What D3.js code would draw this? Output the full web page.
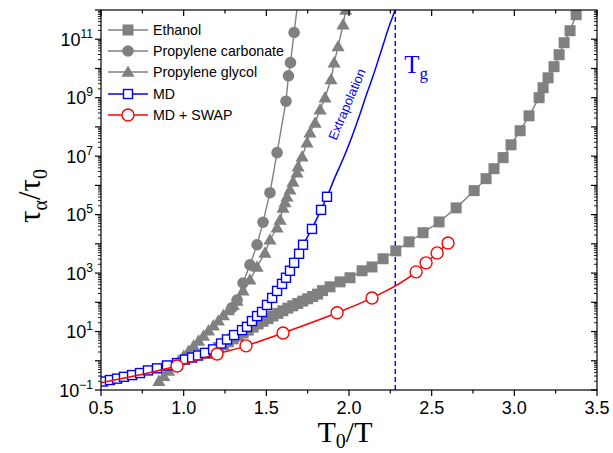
<!DOCTYPE html>
<html>
<head>
<meta charset="utf-8">
<script src="https://cdn.jsdelivr.net/npm/d3@7"></script>
<style>
  html, body { margin: 0; padding: 0; background: #fff; }
  svg { display: block; }
</style>
</head>
<body>
<svg id="chart" width="613" height="453"></svg>
<script>
// ---------------- data ----------------
const ethanolX = [1.15,1.18,1.21,1.24,1.27,1.30,1.33,1.36,1.39,1.42,1.45,1.48,1.51,1.54,1.57,1.60,1.63,1.66,1.69,1.72,1.75,1.78,1.81,1.84,1.885,1.946,2.006,2.079,2.139,2.206,2.283,2.363,2.448,2.545,2.648,2.757,2.829,2.877,2.932,2.980,3.035,3.089,3.150,3.174,3.204,3.240,3.271,3.301,3.337,3.374,3.40];
const ethanolY = [1.78,2.24,2.82,3.55,4.47,5.62,7.08,8.91,11.2,14.1,18.2,22.4,27.5,33.9,41.7,51.3,63.1,75.9,91.2,110,132,158,191,251,339,501,692,1200,1620,3090,5750,1.17e4,2.40e4,5.62e4,1.70e5,6.61e5,1.70e6,3.72e6,8.91e6,2.45e7,7.41e7,2.40e8,1.0e9,2.19e9,4.79e9,1.15e10,2.95e10,7.59e10,1.95e11,6.92e11,2.5e12];

const carbonateX = [1.292,1.323,1.359,1.401,1.444,1.48,1.522,1.565,1.619,1.634,1.646,1.668,1.695];
const carbonateY = [64.6,120,457,1910,9330,5.50e4,5.62e5,1.32e7,7.59e8,5.62e9,1.58e10,1.70e11,3e12];

const glycolX = [0.85,0.88,0.91,0.94,0.97,1.00,1.03,1.06,1.09,1.12,1.15,1.18,1.21,1.24,1.27,1.30,1.323,1.359,1.401,1.444,1.492,1.522,1.565,1.583,1.601,1.613,1.625,1.643,1.661,1.686,1.692,1.716,1.746,1.764,1.795,1.825,1.855,1.891,1.91,1.934,1.964,1.98,2.0];
const glycolY = [0.20,0.295,0.447,0.661,1.0,1.45,2.14,3.24,4.79,7.08,10.7,15.8,23.4,35.5,52.5,79.4,112,251,589,1620,4900,1.38e4,3.55e4,6.61e4,1.70e5,2.63e5,4.07e5,7.08e5,1.32e6,2.69e6,4.37e6,9.55e6,2.88e7,6.31e7,1.38e8,3.89e8,1.0e9,4.17e9,1.58e10,5.62e10,3.16e11,1.0e12,3e12];

const mdX = [0.512,0.554,0.597,0.639,0.688,0.736,0.784,0.839,0.899,0.960,1.008,1.051,1.087,1.129,1.178,1.226,1.262,1.305,1.353,1.383,1.413,1.444,1.474,1.504,1.535,1.565,1.595,1.619,1.643,1.668,1.698,1.722,1.776,1.831,1.867];
const mdY = [0.195,0.219,0.245,0.282,0.324,0.380,0.468,0.550,0.692,0.832,1.10,1.29,1.51,1.86,2.45,3.89,5.37,7.59,11.2,14.5,22.9,33.9,46.8,81.3,141,245,427,692,1200,2240,4570,9330,3.24e4,1.45e5,4.07e5];

const extrapX = [1.867,1.92,1.964,2.02,2.067,2.11,2.146,2.18,2.206,2.24,2.279,2.30];
const extrapY = [4.07e5,2.2e6,8.0e6,5.0e7,2.8e8,1.5e9,5.6e9,2.2e10,6.3e10,2.5e11,1.0e12,2.24e12];

const swapX = [0.960,1.202,1.377,1.601,1.928,2.139,2.406,2.466,2.533,2.599];
const swapY = [0.661,1.70,3.24,8.91,43.7,141,1100,2240,4900,1.07e4];
const swapCurveX = [0.5,0.960,1.202,1.377,1.601,1.928,2.139,2.406,2.466,2.533,2.599];
const swapCurveY = [0.178,0.661,1.70,3.24,8.91,43.7,141,1100,2240,4900,1.07e4];

const tgValue = 2.28;

const xTicks = [0.5,1.0,1.5,2.0,2.5,3.0,3.5];
const xMinorTicks = [0.75,1.25,1.75,2.25,2.75,3.25];
const yLabelExps = [-1,1,3,5,7,9,11];
const yDecades = [-1,0,1,2,3,4,5,6,7,8,9,10,11];

const legendNames = ["Ethanol","Propylene carbonate","Propylene glycol","MD","MD + SWAP"];

// ---------------- drawing ----------------
const svg = d3.select("#chart");
const L = 101, R = 597, T = 10, B = 390;
const x = d3.scaleLinear().domain([0.5, 3.5]).range([L, R]);
const y = d3.scaleLog().domain([0.1, 1e12]).range([B, T]);

const GRAY = "#808080", BLUE = "#0000ff", RED = "#ff0000";

svg.append("defs").append("clipPath").attr("id","clip")
  .append("rect").attr("x",L).attr("y",T).attr("width",R-L).attr("height",B-T);

const plot = svg.append("g").attr("clip-path","url(#clip)");

function zip(xs, ys){ return xs.map((v,i)=>[v, ys[i]]); }
const lineLin = d3.line().x(d=>x(d[0])).y(d=>y(d[1]));
const lineSmooth = d3.line().x(d=>x(d[0])).y(d=>y(d[1])).curve(d3.curveMonotoneX);

// Tg dashed line
plot.append("line").attr("x1",x(tgValue)).attr("x2",x(tgValue)).attr("y1",B).attr("y2",T)
  .attr("stroke",BLUE).attr("stroke-width",1.4).attr("stroke-dasharray","5,3");

// series lines
const eth = zip(ethanolX, ethanolY), pc = zip(carbonateX, carbonateY), pg = zip(glycolX, glycolY);
const md = zip(mdX, mdY), ex = zip(extrapX, extrapY), sw = zip(swapX, swapY), swc = zip(swapCurveX, swapCurveY);

plot.append("path").attr("d", lineLin(eth)).attr("fill","none").attr("stroke",GRAY).attr("stroke-width",1.4);
plot.append("path").attr("d", lineLin(pc)).attr("fill","none").attr("stroke",GRAY).attr("stroke-width",1.4);
plot.append("path").attr("d", lineLin(pg)).attr("fill","none").attr("stroke",GRAY).attr("stroke-width",1.4);

const triSym = d3.symbol().type(d3.symbolTriangle).size(75);

// gray markers
plot.append("g").selectAll("rect").data(eth).join("rect")
  .attr("x",d=>x(d[0])-5.5).attr("y",d=>y(d[1])-5.5).attr("width",11).attr("height",11).attr("fill",GRAY);
plot.append("g").selectAll("circle").data(pc).join("circle")
  .attr("cx",d=>x(d[0])).attr("cy",d=>y(d[1])).attr("r",5.8).attr("fill",GRAY);
plot.append("g").selectAll("path").data(pg).join("path")
  .attr("d", triSym).attr("transform",d=>`translate(${x(d[0])},${y(d[1])+1})`).attr("fill",GRAY);

// MD
plot.append("path").attr("d", lineLin(md)).attr("fill","none").attr("stroke",BLUE).attr("stroke-width",1.5);
plot.append("path").attr("d", lineSmooth(ex)).attr("fill","none").attr("stroke",BLUE).attr("stroke-width",1.5);
plot.append("g").selectAll("rect").data(md).join("rect")
  .attr("x",d=>x(d[0])-4.5).attr("y",d=>y(d[1])-4.5).attr("width",9).attr("height",9)
  .attr("fill","#fff").attr("stroke",BLUE).attr("stroke-width",1.4);

// MD + SWAP
plot.append("path").attr("d", lineSmooth(swc)).attr("fill","none").attr("stroke",RED).attr("stroke-width",1.5);
plot.append("g").selectAll("circle").data(sw).join("circle")
  .attr("cx",d=>x(d[0])).attr("cy",d=>y(d[1])).attr("r",6)
  .attr("fill","#fff").attr("stroke",RED).attr("stroke-width",1.4);

// ---------------- axes ----------------
const ax = svg.append("g").attr("stroke","#000").attr("stroke-width",1.2);
ax.append("rect").attr("x",L).attr("y",T).attr("width",R-L).attr("height",B-T).attr("fill","none");

xTicks.forEach(v=>{
  ax.append("line").attr("x1",x(v)).attr("x2",x(v)).attr("y1",B).attr("y2",B+6);
  ax.append("line").attr("x1",x(v)).attr("x2",x(v)).attr("y1",T).attr("y2",T+6);
});
xMinorTicks.forEach(v=>{
  ax.append("line").attr("x1",x(v)).attr("x2",x(v)).attr("y1",B).attr("y2",B+3.5);
  ax.append("line").attr("x1",x(v)).attr("x2",x(v)).attr("y1",T).attr("y2",T+3.5);
});
yDecades.forEach(k=>{
  const base = Math.pow(10,k);
  ax.append("line").attr("x1",L-6).attr("x2",L).attr("y1",y(base)).attr("y2",y(base));
  ax.append("line").attr("x1",R-6).attr("x2",R).attr("y1",y(base)).attr("y2",y(base));
  for (let m=2; m<=9; m++){
    const v = m*base;
    ax.append("line").attr("x1",L-3).attr("x2",L).attr("y1",y(v)).attr("y2",y(v)).attr("stroke-width",0.9);
    ax.append("line").attr("x1",R-3).attr("x2",R).attr("y1",y(v)).attr("y2",y(v)).attr("stroke-width",0.9);
  }
});
ax.append("line").attr("x1",L-6).attr("x2",L).attr("y1",y(1e12)).attr("y2",y(1e12));

const FONT = "Liberation Sans, Arial, sans-serif";
const SERIF = "Liberation Serif, Times New Roman, serif";

svg.append("g").selectAll("text").data(xTicks).join("text")
  .attr("x",d=>x(d)).attr("y",B+24).attr("text-anchor","middle")
  .attr("font-family",FONT).attr("font-size",18).text(d=>d.toFixed(1));

yLabelExps.forEach(k=>{
  const t = svg.append("text").attr("x",L-8).attr("y",y(Math.pow(10,k))+6.5)
    .attr("text-anchor","end").attr("font-family",FONT).attr("font-size",18);
  t.append("tspan").text("10");
  t.append("tspan").attr("font-size",12).attr("dy",-8).text(String(k).replace("-","\u2212"));
});

const xt = svg.append("text").attr("x",(L+R)/2 - 4).attr("y",442).attr("text-anchor","middle")
  .attr("font-family",SERIF).attr("font-size",30);
xt.append("tspan").text("T");
xt.append("tspan").attr("font-size",20).attr("dy",6).text("0");
xt.append("tspan").attr("dy",-6).text("/T");

const yt = svg.append("text").attr("transform","translate(40,196) rotate(-90)").attr("text-anchor","middle")
  .attr("font-family",SERIF).attr("font-size",31);
yt.append("tspan").text("\u03c4");
yt.append("tspan").attr("font-size",20).attr("dy",7).text("\u03b1");
yt.append("tspan").attr("dy",-7).text("/\u03c4");
yt.append("tspan").attr("font-size",20).attr("dy",7).text("0");

const tg = svg.append("text").attr("x",x(tgValue)+9).attr("y",73)
  .attr("font-family",SERIF).attr("font-size",25).attr("fill",BLUE);
tg.append("tspan").text("T");
tg.append("tspan").attr("font-size",17).attr("dy",6).text("g");

svg.append("text").attr("transform","translate(351,106) rotate(-67)").attr("text-anchor","middle")
  .attr("font-family",FONT).attr("font-size",13).attr("fill",BLUE).text("Extrapolation");

// ---------------- legend ----------------
const legY = [30,51,72,94,115];
const legColors = [GRAY,GRAY,GRAY,BLUE,RED];
const lg = svg.append("g");
legendNames.forEach((name,i)=>{
  const yy = legY[i];
  lg.append("line").attr("x1",108).attr("x2",148).attr("y1",yy).attr("y2",yy)
    .attr("stroke",legColors[i]).attr("stroke-width",1.5);
  if (i===0) lg.append("rect").attr("x",122.5).attr("y",yy-5.5).attr("width",11).attr("height",11).attr("fill",GRAY);
  if (i===1) lg.append("circle").attr("cx",128).attr("cy",yy).attr("r",5.8).attr("fill",GRAY);
  if (i===2) lg.append("path").attr("d",triSym()).attr("transform",`translate(128,${yy+1})`).attr("fill",GRAY);
  if (i===3) lg.append("rect").attr("x",123.5).attr("y",yy-4.5).attr("width",9).attr("height",9)
               .attr("fill","#fff").attr("stroke",BLUE).attr("stroke-width",1.4);
  if (i===4) lg.append("circle").attr("cx",128).attr("cy",yy).attr("r",6)
               .attr("fill","#fff").attr("stroke",RED).attr("stroke-width",1.4);
  lg.append("text").attr("x",153).attr("y",yy+5).attr("font-family",FONT).attr("font-size",14.2)
    .attr("fill","#000").text(name);
});
</script>
</body>
</html>
